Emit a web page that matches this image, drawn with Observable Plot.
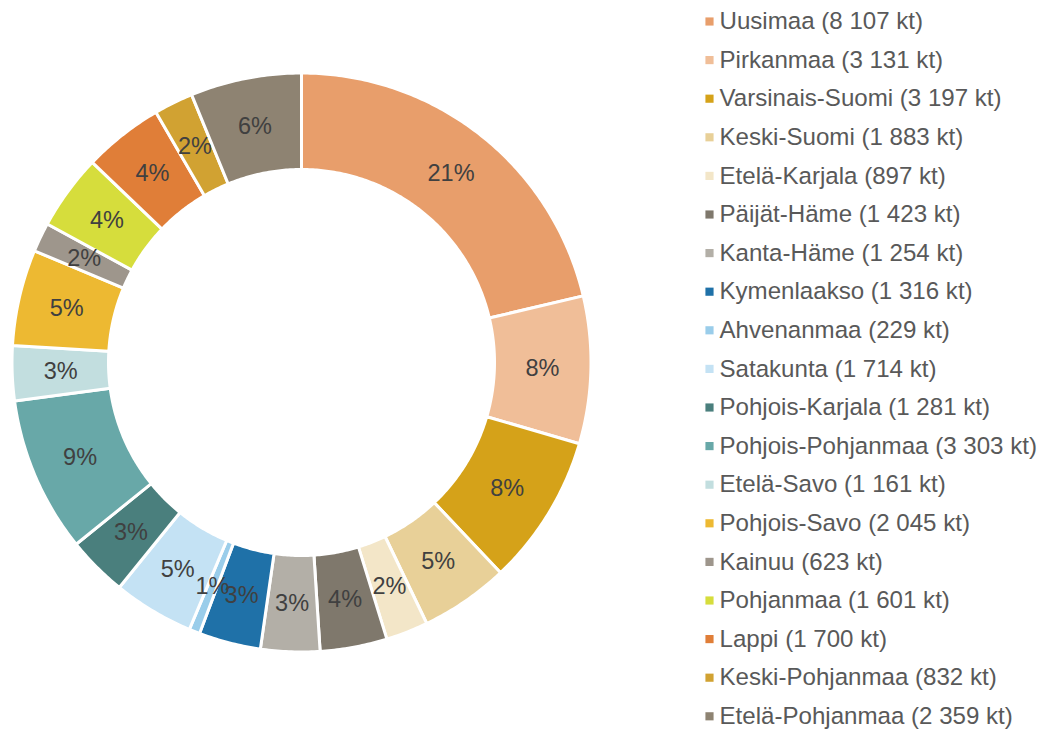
<!DOCTYPE html>
<html>
<head>
<meta charset="utf-8">
<script src="https://cdn.jsdelivr.net/npm/d3@7"></script>
<script src="https://cdn.jsdelivr.net/npm/@observablehq/plot@0.6"></script>
<style>
  html, body { margin: 0; padding: 0; background: #fff; }
  #chart svg { display: block; }
</style>
</head>
<body>
<div id="chart"></div>
<script>
const regions = ["Uusimaa","Pirkanmaa","Varsinais-Suomi","Keski-Suomi","Etelä-Karjala","Päijät-Häme","Kanta-Häme","Kymenlaakso","Ahvenanmaa","Satakunta","Pohjois-Karjala","Pohjois-Pohjanmaa","Etelä-Savo","Pohjois-Savo","Kainuu","Pohjanmaa","Lappi","Keski-Pohjanmaa","Etelä-Pohjanmaa"];
const valuesKt = [8107,3131,3197,1883,897,1423,1254,1316,229,1714,1281,3303,1161,2045,623,1601,1700,832,2359];
const colors = ["#E89E6B","#F0BE98","#D5A219","#E8D098","#F3E6C8","#7F786C","#B3AFA7","#1F71A8","#9ACDEA","#C4E2F4","#4A7F7D","#68A8A8","#C2DEDF","#EDB932","#9E968C","#D6DD3C","#E07E38","#D1A232","#8E8372"];

const W = 1045, H = 729;
const cx = 301, cy = 362, rOuter = 289.5, rInner = 193, rLabel = 241;
const total = d3.sum(valuesKt);
const fmtKt = v => d3.format(",")(v).replace(/,/g, " ");
const FONT = "Liberation Sans";

const arcs = d3.pie().sort(null).value(d => d)(valuesKt);

const polyPts = [];
arcs.forEach((a, i) => {
  const n = Math.max(2, Math.ceil((a.endAngle - a.startAngle) / 0.01));
  for (let k = 0; k <= n; k++) {
    const t = a.startAngle + (a.endAngle - a.startAngle) * k / n;
    polyPts.push({name: regions[i], color: colors[i], x: cx + rOuter * Math.sin(t), y: cy - rOuter * Math.cos(t)});
  }
  for (let k = n; k >= 0; k--) {
    const t = a.startAngle + (a.endAngle - a.startAngle) * k / n;
    polyPts.push({name: regions[i], color: colors[i], x: cx + rInner * Math.sin(t), y: cy - rInner * Math.cos(t)});
  }
});

const labels = arcs.map((a, i) => {
  const m = (a.startAngle + a.endAngle) / 2;
  return {x: cx + rLabel * Math.sin(m), y: cy - rLabel * Math.cos(m), text: Math.round(valuesKt[i] / total * 100) + "%"};
});

const legendTop = 21, legendStep = 38.6;
const legend = regions.map((r, i) => ({name: r, color: colors[i], y: legendTop + i * legendStep, text: `${r} (${fmtKt(valuesKt[i])} kt)`}));

const chart = Plot.plot({
  width: W, height: H,
  margin: 0,
  style: {fontFamily: FONT, background: "#fff"},
  x: {domain: [0, W], range: [0, W], axis: null},
  y: {domain: [0, H], range: [0, H], axis: null},
  marks: [
    Plot.line(polyPts, {x: "x", y: "y", z: "name", fill: "color", stroke: "white", strokeWidth: 3, curve: "linear-closed"}),
    Plot.text(labels, {x: "x", y: "y", text: "text", fill: "#404040", fontSize: 23.5, fontFamily: FONT}),
    Plot.dot(legend, {x: () => 709, y: "y", symbol: "square", r: 4.6, fill: "color", stroke: null}),
    Plot.text(legend, {x: () => 719, y: "y", text: "text", textAnchor: "start", fill: "#595959", fontSize: 24.1, fontFamily: FONT})
  ]
});
document.getElementById("chart").append(chart);
</script>
</body>
</html>
